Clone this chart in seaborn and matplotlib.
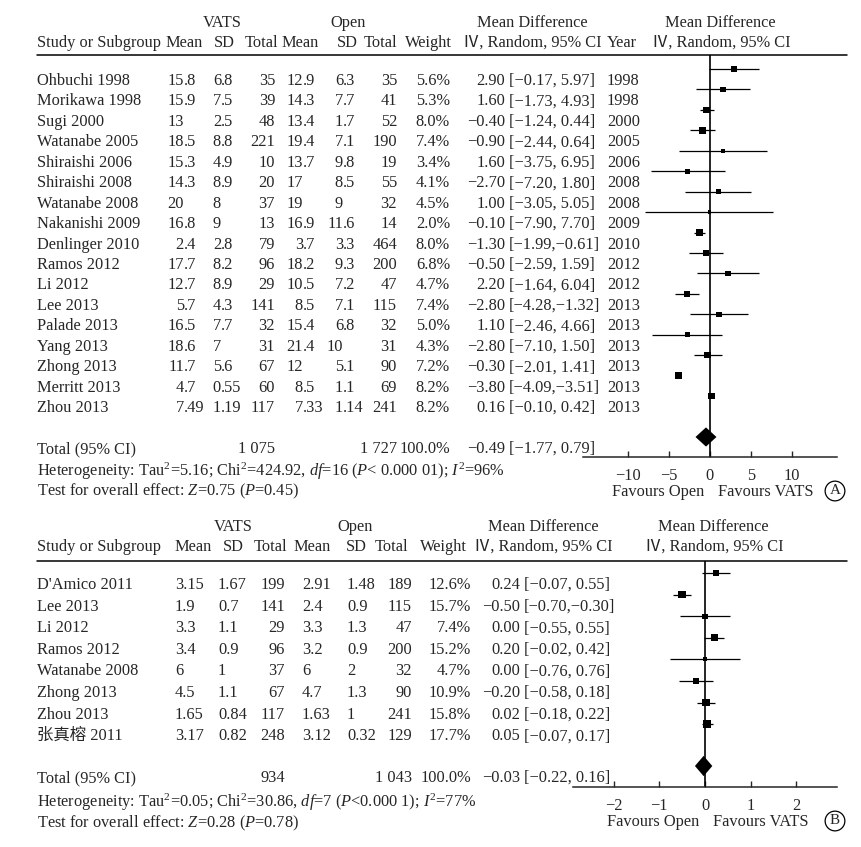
import matplotlib
matplotlib.use('Agg')
import matplotlib.pyplot as plt
import seaborn as sns
import pandas as pd

# ---- panel A data (operative time / table values) ----
studies_a = ['Ohbuchi 1998', 'Morikawa 1998', 'Sugi 2000', 'Watanabe 2005', 'Shiraishi 2006',
             'Shiraishi 2008', 'Watanabe 2008', 'Nakanishi 2009', 'Denlinger 2010', 'Ramos 2012',
             'Li 2012', 'Lee 2013', 'Palade 2013', 'Yang 2013', 'Zhong 2013', 'Merritt 2013', 'Zhou 2013']
vats_mean_a = ['15.8', '15.9', '13', '18.5', '15.3', '14.3', '20', '16.8', '2.4', '17.7', '12.7',
               '5.7', '16.5', '18.6', '11.7', '4.7', '7.49']
vats_sd_a = ['6.8', '7.5', '2.5', '8.8', '4.9', '8.9', '8', '9', '2.8', '8.2', '8.9', '4.3', '7.7',
             '7', '5.6', '0.55', '1.19']
vats_n_a = [35, 39, 48, 221, 10, 20, 37, 13, 79, 96, 29, 141, 32, 31, 67, 60, 117]
open_mean_a = ['12.9', '14.3', '13.4', '19.4', '13.7', '17', '19', '16.9', '3.7', '18.2', '10.5',
               '8.5', '15.4', '21.4', '12', '8.5', '7.33']
open_sd_a = ['6.3', '7.7', '1.7', '7.1', '9.8', '8.5', '9', '11.6', '3.3', '9.3', '7.2', '7.1',
             '6.8', '10', '5.1', '1.1', '1.14']
open_n_a = [35, 41, 52, 190, 19, 55, 32, 14, 464, 200, 47, 115, 32, 31, 90, 69, 241]
weight_a = [5.6, 5.3, 8.0, 7.4, 3.4, 4.1, 4.5, 2.0, 8.0, 6.8, 4.7, 7.4, 5.0, 4.3, 7.2, 8.2, 8.2]
md_a = [2.90, 1.60, -0.40, -0.90, 1.60, -2.70, 1.00, -0.10, -1.30, -0.50, 2.20, -2.80, 1.10,
        -2.80, -0.30, -3.80, 0.16]
lo_a = [-0.17, -1.73, -1.24, -2.44, -3.75, -7.20, -3.05, -7.90, -1.99, -2.59, -1.64, -4.28,
        -2.46, -7.10, -2.01, -4.09, -0.10]
hi_a = [5.97, 4.93, 0.44, 0.64, 6.95, 1.80, 5.05, 7.70, -0.61, 1.59, 6.04, -1.32, 4.66, 1.50,
        1.41, -3.51, 0.42]
year_a = [1998, 1998, 2000, 2005, 2006, 2008, 2008, 2009, 2010, 2012, 2012, 2013, 2013, 2013,
          2013, 2013, 2013]
total_a = {'vats_n': '1 075', 'open_n': '1 727', 'md': -0.49, 'lo': -1.77, 'hi': 0.79}
het_a = ("Heterogeneity: Tau$^{2}$=5.16; Chi$^{2}$=424.92, $df$=16 ($P$< 0.000 01); "
         "$I^{2}$=96%")
test_a = "Test for overall effect: $Z$=0.75 ($P$=0.45)"

# ---- panel B data ----
studies_b = ["D'Amico 2011", 'Lee 2013', 'Li 2012', 'Ramos 2012', 'Watanabe 2008', 'Zhong 2013',
             'Zhou 2013', '张真榕 2011']
vats_mean_b = ['3.15', '1.9', '3.3', '3.4', '6', '4.5', '1.65', '3.17']
vats_sd_b = ['1.67', '0.7', '1.1', '0.9', '1', '1.1', '0.84', '0.82']
vats_n_b = [199, 141, 29, 96, 37, 67, 117, 248]
open_mean_b = ['2.91', '2.4', '3.3', '3.2', '6', '4.7', '1.63', '3.12']
open_sd_b = ['1.48', '0.9', '1.3', '0.9', '2', '1.3', '1', '0.32']
open_n_b = [189, 115, 47, 200, 32, 90, 241, 129]
weight_b = [12.6, 15.7, 7.4, 15.2, 4.7, 10.9, 15.8, 17.7]
md_b = [0.24, -0.50, 0.00, 0.20, 0.00, -0.20, 0.02, 0.05]
lo_b = [-0.07, -0.70, -0.55, -0.02, -0.76, -0.58, -0.18, -0.07]
hi_b = [0.55, -0.30, 0.55, 0.42, 0.76, 0.18, 0.22, 0.17]
total_b = {'vats_n': '934', 'open_n': '1 043', 'md': -0.03, 'lo': -0.22, 'hi': 0.16}
het_b = ("Heterogeneity: Tau$^{2}$=0.05; Chi$^{2}$=30.86, $df$=7 ($P$<0.000 1); "
         "$I^{2}$=77%")
test_b = "Test for overall effect: $Z$=0.28 ($P$=0.78)"

sns.set_style('white')
plt.rcParams['font.family'] = ['Liberation Serif', 'Noto Sans CJK SC', 'DejaVu Sans']
plt.rcParams['mathtext.fontset'] = 'custom'
plt.rcParams['mathtext.rm'] = 'Liberation Serif'
plt.rcParams['mathtext.it'] = 'Liberation Serif:italic'
FS = 11.8
W, H = 861, 847

fig = plt.figure(figsize=(W / 100, H / 100), dpi=100)
bg = fig.add_axes([0, 0, 1, 1])
bg.set_xlim(0, W)
bg.set_ylim(H, 0)
bg.axis('off')


def minus(s):
    return s.replace('-', '\u2212')


def put(x, y, s, ha='left', size=FS):
    # y is the visual centre of the text line in pixels
    bg.text(x, y + 5, s, ha=ha, va='baseline', fontsize=size)


def dec(x, y, s):
    # decimal alignment on x
    if '.' in s:
        a, b = s.split('.')
        put(x, y, a, 'right')
        put(x, y, '.' + b)
    else:
        put(x, y, s, 'right')


def left(x, y, s):
    put(x, y, s)


def ci_text(m, lo, hi):
    sep = ',' if hi < 0 else ', '
    return minus(f'{m:.2f}'), minus(f'[{lo:.2f}{sep}{hi:.2f}]')


def panel(ax_box, y_head, y_rows, y_total, y_het, y_test, cols, d, xl, ticks, k, label):
    # headers
    put(37, y_head + 20, 'Study or Subgroup')
    for txt, x, ha in cols['head1']:
        put(x, y_head, txt, ha)
    for txt, x, ha in cols['head2']:
        put(x, y_head + 20, txt, ha)
    bg.plot([37, 847], [ax_box[1], ax_box[1]], color='black', lw=1.1)

    for i, y in enumerate(y_rows):
        put(37, y, d['study'][i])
        cols['vm'][1](cols['vm'][0], y, d['vm'][i])
        cols['vs'][1](cols['vs'][0], y, d['vs'][i])
        put(cols['vn'], y, str(d['vn'][i]), 'right')
        cols['om'][1](cols['om'][0], y, d['om'][i])
        cols['os'][1](cols['os'][0], y, d['os'][i])
        put(cols['on'], y, str(d['on'][i]), 'right')
        put(cols['w'], y, f"{d['w'][i]:.1f}%", 'right')
        a, b = ci_text(d['md'][i], d['lo'][i], d['hi'][i])
        put(cols['ci'], y, a, 'right')
        put(cols['ci'] + 4, y, b)
        if 'year' in d:
            put(cols['year'], y, str(d['year'][i]))

    t = d['total']
    put(37, y_total, 'Total (95% CI)')
    put(cols['vn'], y_total, t['vats_n'], 'right')
    put(cols['on'], y_total, t['open_n'], 'right')
    put(cols['w'], y_total, '100.0%', 'right')
    a, b = ci_text(t['md'], t['lo'], t['hi'])
    put(cols['ci'], y_total, a, 'right')
    put(cols['ci'] + 4, y_total, b)
    put(37, y_het, d['het'])
    put(37, y_test, d['test'])

    # forest plot
    x0, y0, x1, y1 = ax_box
    ax = fig.add_axes([x0 / W, 1 - y1 / H, (x1 - x0) / W, (y1 - y0) / H])
    ax.patch.set_alpha(0)
    n = len(d['md'])
    row_h = (y_rows[-1] - y_rows[0]) / (n - 1)
    top_row = (y0 - (y_rows[0] - 11)) / row_h
    bot_row = (y1 - (y_rows[0] - 11)) / row_h
    ax.set_xlim(-xl, xl)
    ax.set_ylim(bot_row, top_row)
    rows = list(range(n))
    ax.hlines(rows, d['lo'], d['hi'], color='black', lw=0.9)
    df = pd.DataFrame({'md': d['md'], 'row': rows, 'w': d['w']})
    sns.scatterplot(data=df, x='md', y='row', size='w', marker='s', color='black',
                    sizes=(k * min(d['w']), k * max(d['w'])),
                    size_norm=(min(d['w']), max(d['w'])), linewidth=0, legend=False, ax=ax,
                    zorder=3)
    tr = (y_total - y_rows[0]) / row_h
    hh = 0.47
    ax.fill([t['lo'], t['md'], t['hi'], t['md']], [tr, tr - hh, tr, tr + hh],
            color='black', zorder=3, lw=0)
    ax.axvline(0, color='black', lw=1.2, zorder=2)
    for s in ['top', 'right', 'left']:
        ax.spines[s].set_visible(False)
    ax.spines['bottom'].set_linewidth(1.1)
    ax.set_yticks([])
    ax.set_xticks(ticks)
    ax.set_xticklabels([minus(str(v)) for v in ticks])
    ax.tick_params(axis='x', direction='in', length=4, width=1, pad=8, labelsize=FS,
                   bottom=True)
    ax.set_xlabel('')
    ax.set_ylabel('')
    zero_px = x0 + (x1 - x0) / 2
    put(zero_px - 52, y1 + 34, 'Favours Open', 'center')
    put(zero_px + 56, y1 + 34, 'Favours VATS', 'center')
    bg.text(x1 - 2, y1 + 34, label, ha='center', va='center', fontsize=11,
            bbox=dict(boxstyle='circle,pad=0.22', fc='none', ec='black', lw=0.9))
    return ax


data_a = dict(study=studies_a, vm=vats_mean_a, vs=vats_sd_a, vn=vats_n_a, om=open_mean_a,
              os=open_sd_a, on=open_n_a, w=weight_a, md=md_a, lo=lo_a, hi=hi_a, year=year_a,
              total=total_a, het=het_a, test=test_a)
cols_a = dict(
    head1=[('VATS', 222, 'center'), ('Open', 348, 'center'), ('Mean Difference', 532, 'center'),
           ('Mean Difference', 720, 'center')],
    head2=[('Mean', 165, 'left'), ('SD', 224, 'center'), ('Total', 278, 'right'),
           ('Mean', 282, 'left'), ('SD', 347, 'center'), ('Total', 397, 'right'),
           ('Weight', 452, 'right'), ('Ⅳ, Random, 95% CI', 532, 'center'),
           ('Year', 622, 'center'), ('Ⅳ, Random, 95% CI', 721, 'center')],
    vm=(184, dec), vs=(221, dec), vn=275, om=(303, dec), os=(343, dec), on=397, w=450,
    ci=505, year=607)
y_rows_a = [80 + i * 20.44 for i in range(len(studies_a))]
panel((583, 55, 837, 457), 22, y_rows_a, 448, 471, 490, cols_a, data_a, 15.5,
      [-10, -5, 0, 5, 10], 2.9, 'A')

data_b = dict(study=studies_b, vm=vats_mean_b, vs=vats_sd_b, vn=vats_n_b, om=open_mean_b,
              os=open_sd_b, on=open_n_b, w=weight_b, md=md_b, lo=lo_b, hi=hi_b,
              total=total_b, het=het_b, test=test_b)
cols_b = dict(
    head1=[('VATS', 233, 'center'), ('Open', 355, 'center'), ('Mean Difference', 543, 'center'),
           ('Mean Difference', 713, 'center')],
    head2=[('Mean', 193, 'center'), ('SD', 233, 'center'), ('Total', 287, 'right'),
           ('Mean', 293, 'left'), ('SD', 356, 'center'), ('Total', 408, 'right'),
           ('Weight', 467, 'right'), ('Ⅳ, Random, 95% CI', 543, 'center'),
           ('Ⅳ, Random, 95% CI', 714, 'center')],
    vm=(175, left), vs=(218, left), vn=285, om=(302, left), os=(347, left), on=412, w=471,
    ci=520)
y_rows_b = [584 + i * 21.6 for i in range(len(studies_b))]
panel((573, 561, 837, 787), 526, y_rows_b, 777, 802, 822, cols_b, data_b, 2.89,
      [-2, -1, 0, 1, 2], 1.8, 'B')

fig.savefig('out.png', dpi=100)
